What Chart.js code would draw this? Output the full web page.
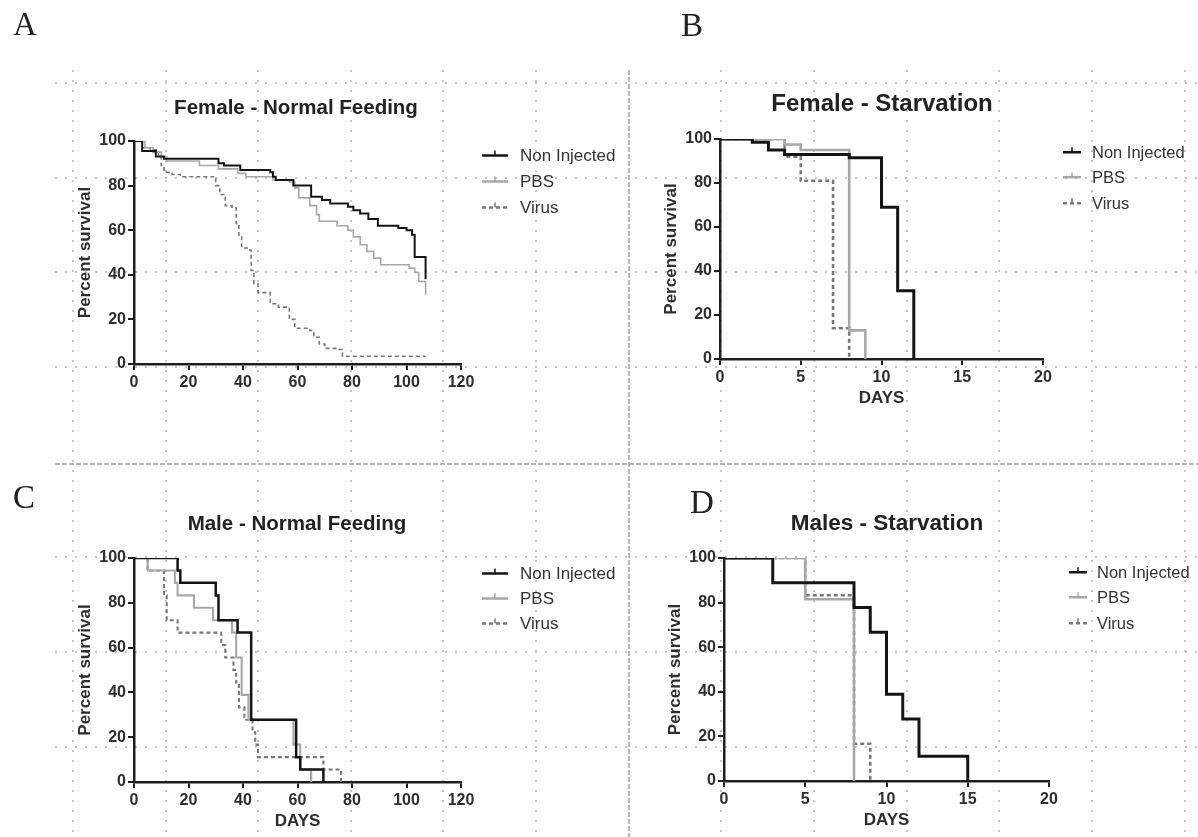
<!DOCTYPE html>
<html>
<head>
<meta charset="utf-8">
<script src="https://cdn.jsdelivr.net/npm/chart.js@4.4.1/dist/chart.umd.min.js"></script>
<style>
  body { margin: 0; background: #fff; }
  #page { position: relative; width: 1198px; height: 837px; overflow: hidden; font-family: "Liberation Sans", Arial, sans-serif; color: #2a2a2a; }
  canvas { position: absolute; }
  .letter { position: absolute; font-family: "Liberation Serif", "Times New Roman", serif; font-size: 33px; line-height: 1; color: #222; }
  .title { position: absolute; font-weight: bold; line-height: 1; white-space: nowrap; transform: translate(-50%, -50%); color: #222; }
  .leg { position: absolute; white-space: nowrap; line-height: 1; color: #333; }
  .leg svg { position: absolute; left: 0; }
  .leg span { position: absolute; }
</style>
</head>
<body>
<div id="page">
  <canvas id="bg" width="1198" height="837" style="left:0;top:0"></canvas>

  <div class="letter" style="left:13px;top:8px">A</div>
  <div class="letter" style="left:681px;top:9px">B</div>
  <div class="letter" style="left:13px;top:481px">C</div>
  <div class="letter" style="left:690px;top:486px">D</div>

  <div class="title" style="left:296px;top:107px;font-size:20.5px">Female - Normal Feeding</div>
  <div class="title" style="left:882px;top:103px;font-size:24px">Female - Starvation</div>
  <div class="title" style="left:297px;top:523px;font-size:20.5px">Male - Normal Feeding</div>
  <div class="title" style="left:887px;top:523px;font-size:22.5px">Males - Starvation</div>

  <canvas id="chartA"></canvas>
  <canvas id="chartB"></canvas>
  <canvas id="chartC"></canvas>
  <canvas id="chartD"></canvas>
</div>
<script>
// survival curves: days -> percent survival
const seriesNames = ['Non Injected', 'PBS', 'Virus'];
const seriesColors = ['#141414', '#a8a8a8', '#787878'];
const seriesDash = [[], [], [4, 3]];

const yTicks = [0, 20, 40, 60, 80, 100];
const fedTicks = [0, 20, 40, 60, 80, 100, 120];
const starvTicks = [0, 5, 10, 15, 20];

// A - Female, normal feeding
const aNonInjDays = [0, 3, 8, 11, 31, 33, 39, 50, 51, 52, 58.5, 65, 69, 72, 78.5, 80.5, 83, 86, 89.5, 97, 100, 102, 103, 107];
const aNonInjPct  = [100, 95.5, 93, 92, 90, 89, 87, 86, 84, 82.5, 80, 75, 73.5, 72, 70.5, 69, 67.5, 65, 62, 61, 60, 58, 48, 38];
const aPbsDays = [0, 4, 7, 10, 12, 24, 31, 38, 41, 51, 57, 59, 60.5, 64.5, 67, 68, 74.5, 78.5, 80.5, 83, 85.5, 88, 90.5, 101, 103, 104.5, 107];
const aPbsPct  = [100, 97, 95, 93, 91, 89, 87.5, 85.5, 84, 82.5, 81.5, 79, 74.5, 71, 67, 64, 62, 60, 57, 53.5, 50.5, 47.5, 44.5, 43, 41, 37, 31];
const aVirusDays = [0, 3, 6, 9, 10, 11, 14, 17, 30, 31.5, 33.5, 36, 37.5, 38.5, 39.5, 42.5, 43, 44, 45.5, 50, 53, 57, 59, 64.5, 66, 68, 70, 75, 76.5, 107];
const aVirusPct  = [100, 97, 96, 93, 89, 86, 85, 84, 80, 76, 71, 70, 63, 57, 52, 51, 42, 36, 32, 27, 25.5, 20, 16, 15, 12, 9, 7, 6.5, 3.5, 3.5];

// B - Female, starvation
const bNonInjDays = [0, 2, 3, 4, 8, 10, 11, 12];
const bNonInjPct  = [100, 98.5, 95, 93, 91.5, 69, 31, 0];
const bPbsDays = [0, 4, 5, 8, 9];
const bPbsPct  = [100, 97.5, 95, 13, 0];
const bVirusDays = [0, 4, 5, 7, 8];
const bVirusPct  = [100, 92, 81, 14, 0];

// C - Male, normal feeding
const cNonInjDays = [0, 16, 17, 30, 31, 38, 43, 59.5, 61, 69.5];
const cNonInjPct  = [100, 94.4, 88.9, 83.3, 72.2, 66.7, 27.8, 11.1, 5.6, 0];
const cPbsDays = [0, 5, 15, 16, 22, 29, 36, 37.5, 39.5, 42, 58.5, 61, 65];
const cPbsPct  = [100, 94.4, 88.9, 83.3, 77.8, 72.2, 66.7, 55.6, 38.9, 27.8, 16.7, 5.6, 0];
const cVirusDays = [0, 5, 11, 12, 16, 32, 33.5, 36.5, 37.5, 38.5, 40.5, 43.5, 44.5, 45.5, 69.5, 76];
const cVirusPct  = [100, 94.4, 83.3, 72.2, 66.7, 61.1, 55.6, 50, 44.4, 33.3, 27.8, 22.2, 16.7, 11.1, 5.6, 0];

// D - Male, starvation
const dNonInjDays = [0, 3, 8, 9, 10, 11, 12, 15];
const dNonInjPct  = [100, 88.9, 77.8, 66.7, 38.9, 27.8, 11.1, 0];
const dPbsDays = [0, 5, 8];
const dPbsPct  = [100, 81.5, 0];
const dVirusDays = [0, 5, 8, 9];
const dVirusPct  = [100, 83.3, 16.7, 0];

Chart.defaults.font.family = '"Liberation Sans", Arial, sans-serif';
Chart.defaults.color = '#2e2e2e';

// page grid behind the panels
const drawBackground = function () {
    const g = document.getElementById('bg').getContext('2d');
    const gridXs = [73, 166, 258, 351, 443, 536, 721, 814, 907, 999, 1092, 1185];
    const gridYs = [83, 178, 272, 367, 557, 652, 747];
    g.strokeStyle = '#b4b4b4';
    g.lineWidth = 1.5;
    g.setLineDash([2, 8]);
    g.beginPath();
    gridXs.forEach(x => { g.moveTo(x, 70); g.lineTo(x, 837); });
    gridYs.forEach(y => { g.moveTo(55, y); g.lineTo(1198, y); });
    g.stroke();
    g.strokeStyle = '#a0a0a0';
    g.setLineDash([5, 2]);
    g.beginPath();
    g.moveTo(55, 464); g.lineTo(1198, 464);
    g.moveTo(629, 70); g.lineTo(629, 837);
    g.stroke();
}
drawBackground()

const pts = (days, pct) => days.map((d, i) => ({ x: d, y: pct[i] }));

const makePanel = function (id, plot, xTicks, curves, lineW, showDays) {
    const cv = document.getElementById(id);
    cv.width = plot.right - plot.left + 110;
    cv.height = plot.bottom - plot.top + 100;
    cv.style.left = (plot.left - 80) + 'px';
    cv.style.top = (plot.top - 40) + 'px';

    const axisGrid = { drawOnChartArea: false, drawTicks: true, tickLength: 6, color: '#1e1e1e', lineWidth: 2 };
    const axisBorder = { display: true, color: '#1e1e1e', width: 2.5 };
    const tickFont = { size: 16, weight: 'bold' };

    new Chart(cv, {
        type: 'line',
        data: {
            datasets: curves.map((c, i) => ({
                label: seriesNames[i],
                data: pts(c[0], c[1]),
                stepped: 'before',
                borderColor: seriesColors[i],
                borderWidth: i === 0 ? lineW : lineW - 0.4,
                borderDash: seriesDash[i],
                pointRadius: 0,
                fill: false
            }))
        },
        options: {
            responsive: false,
            animation: false,
            layout: { padding: { left: 0, top: 40, right: 30, bottom: 0 } },
            plugins: { legend: { display: false }, tooltip: { enabled: false } },
            scales: {
                x: {
                    type: 'linear',
                    min: xTicks[0],
                    max: xTicks[xTicks.length - 1],
                    afterBuildTicks: s => { s.ticks = xTicks.map(v => ({ value: v })); },
                    afterFit: s => { s.height = 60; },
                    grid: axisGrid,
                    border: axisBorder,
                    ticks: { font: tickFont, padding: 3, maxRotation: 0, autoSkip: false },
                    title: { display: showDays, text: 'DAYS', font: { size: 17, weight: 'bold' }, padding: { top: 0, bottom: 10 } }
                },
                y: {
                    min: 0,
                    max: 100,
                    afterBuildTicks: s => { s.ticks = yTicks.map(v => ({ value: v })); },
                    afterFit: s => { s.width = 80; },
                    grid: axisGrid,
                    border: axisBorder,
                    ticks: { font: tickFont, padding: 2 },
                    title: { display: true, text: 'Percent survival', font: { size: 17, weight: 'bold' }, padding: { top: 21, bottom: 0 } }
                }
            }
        }
    });
}

// html legend, one row per series
const makeLegend = function (sampleX, sampleW, textX, rows, fontSize) {
    const page = document.getElementById('page');
    rows.forEach((y, i) => {
        const row = document.createElement('div');
        row.className = 'leg';
        row.style.left = sampleX + 'px';
        row.style.top = (y - fontSize / 2) + 'px';
        row.style.fontSize = fontSize + 'px';
        const mid = fontSize / 2;
        const dash = seriesDash[i].length ? 'stroke-dasharray="' + seriesDash[i].join(',') + '"' : '';
        row.innerHTML =
            '<svg width="' + sampleW + '" height="' + fontSize + '">' +
            '<line x1="0" y1="' + mid + '" x2="' + sampleW + '" y2="' + mid + '" stroke="' + seriesColors[i] + '" stroke-width="2.5" ' + dash + '/>' +
            '<line x1="' + sampleW / 2 + '" y1="' + (mid - 5) + '" x2="' + sampleW / 2 + '" y2="' + mid + '" stroke="' + seriesColors[i] + '" stroke-width="1.5"/>' +
            '</svg><span style="left:' + (textX - sampleX) + 'px">' + seriesNames[i] + '</span>';
        page.appendChild(row);
    });
}

makePanel('chartA', { left: 134, top: 141, right: 461, bottom: 364 }, fedTicks,
    [[aNonInjDays, aNonInjPct], [aPbsDays, aPbsPct], [aVirusDays, aVirusPct]], 2, false);
makePanel('chartB', { left: 720, top: 139, right: 1043, bottom: 359 }, starvTicks,
    [[bNonInjDays, bNonInjPct], [bPbsDays, bPbsPct], [bVirusDays, bVirusPct]], 3, true);
makePanel('chartC', { left: 134, top: 558, right: 461, bottom: 782 }, fedTicks,
    [[cNonInjDays, cNonInjPct], [cPbsDays, cPbsPct], [cVirusDays, cVirusPct]], 2.5, true);
makePanel('chartD', { left: 724, top: 558, right: 1049, bottom: 781 }, starvTicks,
    [[dNonInjDays, dNonInjPct], [dPbsDays, dPbsPct], [dVirusDays, dVirusPct]], 3, true);

makeLegend(482, 26, 520, [155, 181, 207], 17);
makeLegend(1063, 18, 1092, [152, 177, 203], 16.5);
makeLegend(482, 26, 520, [573, 598, 623], 17);
makeLegend(1069, 18, 1097, [572, 597, 623], 16.5);
</script>
</body>
</html>
